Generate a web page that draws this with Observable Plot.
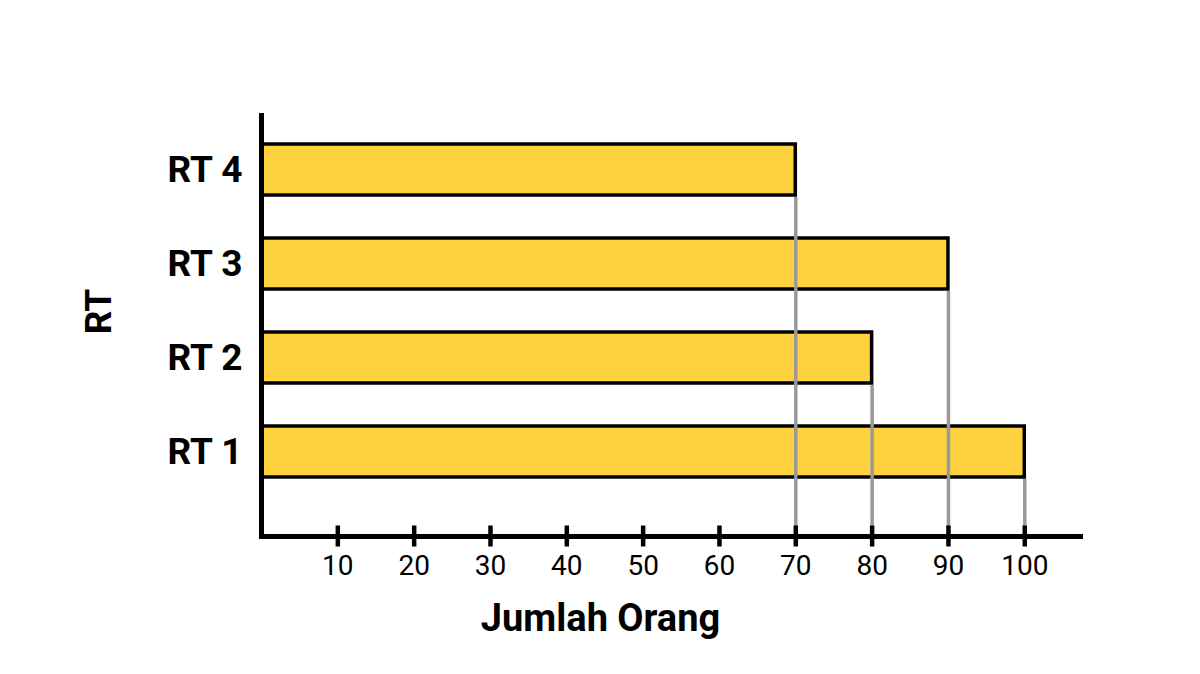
<!DOCTYPE html>
<html>
<head>
<meta charset="utf-8">
<script src="https://cdn.jsdelivr.net/npm/d3@7"></script>
<script src="https://cdn.jsdelivr.net/npm/@observablehq/plot@0.6"></script>
<style>
  html, body { margin: 0; padding: 0; background: #fff; }
  #chart { width: 1200px; height: 674px; }
</style>
</head>
<body>
<div id="chart"></div>
<script>
const categories = ["RT 1", "RT 2", "RT 3", "RT 4"];
const values = [100, 80, 90, 70];
const xTicks = [10, 20, 30, 40, 50, 60, 70, 80, 90, 100];
const xLabel = "Jumlah Orang";
const yLabel = "RT";

const data = categories.map((rt, i) => ({rt, value: values[i]}));
const order = categories.slice().reverse();

const plot = Plot.plot({
  width: 1200,
  height: 674,
  marginLeft: 261,
  marginRight: 120,
  marginTop: 115,
  marginBottom: 138,
  style: {fontFamily: "Roboto", color: "#000", background: "#fff"},
  x: {domain: [0, 107.3]},
  y: {domain: order, paddingInner: 0.46, paddingOuter: 0.46, align: 0.33},
  marks: [
    Plot.barX(data, {x: "value", y: "rt", fill: "#fdd23e", stroke: "#000", strokeWidth: 3.5}),
    new Plot.RuleX(data, {x: "value", y1: "rt", insetTop: 53, stroke: "#999", strokeWidth: 3.5}),
    Plot.frame({anchor: "left", stroke: "#000", strokeWidth: 5, strokeLinecap: "square"}),
    Plot.frame({anchor: "bottom", stroke: "#000", strokeWidth: 5, strokeLinecap: "square"}),
    Plot.axisX({ticks: xTicks, tickSize: 21, dy: -10.5, text: null, label: null, stroke: "#000", strokeWidth: 4.5}),
    Plot.axisX({ticks: xTicks, tickSize: 0, tickPadding: 19, fontSize: 28, label: null, fill: "#000"}),
    Plot.axisY({tickSize: 0, tickPadding: 19, fontSize: 37, fontWeight: "bold", label: null, fill: "#000"}),
    Plot.text([yLabel], {text: d => d, frameAnchor: "left", rotate: -90, dx: -162.5, dy: -14.5, fontSize: 37, fontWeight: "bold", fill: "#000", textAnchor: "middle", lineAnchor: "middle"}),
    Plot.text([xLabel], {text: d => d, frameAnchor: "bottom", dx: -70.5, dy: 82, fontSize: 38, fontWeight: "bold", fill: "#000", textAnchor: "middle", lineAnchor: "middle"})
  ]
});
document.getElementById("chart").appendChild(plot);
</script>
</body>
</html>
